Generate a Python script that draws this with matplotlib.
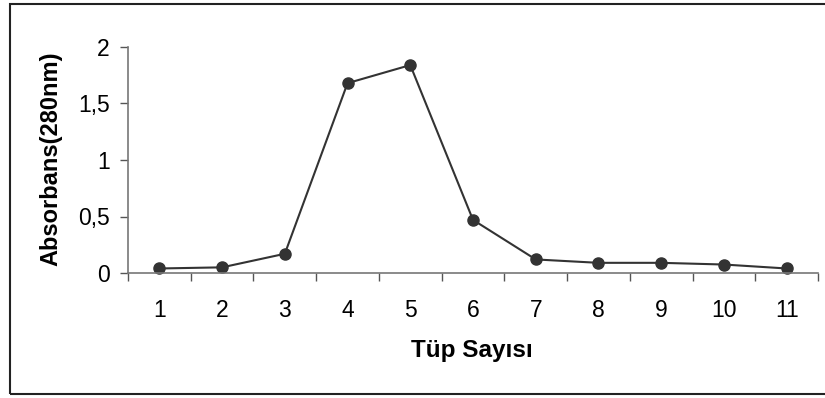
import matplotlib
matplotlib.use("Agg")
import matplotlib.pyplot as plt
from matplotlib.patches import Rectangle

tubes = [1, 2, 3, 4, 5, 6, 7, 8, 9, 10, 11]
absorbance = [0.04, 0.05, 0.17, 1.68, 1.84, 0.47, 0.12, 0.09, 0.09, 0.075, 0.04]
ytick_vals = [0, 0.5, 1, 1.5, 2]
ytick_labels = ["0", "0,5", "1", "1,5", "2"]
xlabel = "Tüp Sayısı"
ylabel = "Absorbans(280nm)"

plt.rcParams['font.family'] = ['Liberation Sans', 'DejaVu Sans']

W, H = 825, 398
fig = plt.figure(figsize=(W / 100, H / 100), dpi=100)
ax = fig.add_axes([128 / W, (H - 273) / H, (818 - 128) / W, (273 - 47) / H])

ax.plot(tubes, absorbance, color="#333333", lw=1.5, marker="o",
        markersize=8, markerfacecolor="#333333", markeredgecolor="#333333",
        clip_on=False)

ax.set_xlim(0.5, len(tubes) + 0.5)
ax.set_ylim(0, 2)
ax.set_yticks(ytick_vals)
ax.set_yticklabels(ytick_labels, fontsize=16.5)

# category boundaries as major ticks, labels at centres via minor ticks
ax.set_xticks([t - 0.5 for t in tubes] + [tubes[-1] + 0.5])
ax.set_xticklabels([])
ax.set_xticks(tubes, minor=True)
ax.set_xticklabels([str(t) for t in tubes], minor=True, fontsize=16.5)
ax.tick_params(axis="x", which="minor", length=0, pad=19)
ax.tick_params(axis="x", which="major", length=6, width=1, color="#555555", direction="out")
ax.tick_params(axis="y", length=6, width=1, color="#555555", direction="out", pad=7)

for s in ["top", "right"]:
    ax.spines[s].set_visible(False)
for s in ["left", "bottom"]:
    ax.spines[s].set_color("#777777")
    ax.spines[s].set_linewidth(1.2)

fig.text(472 / W, 1 - 351 / H, xlabel, fontsize=17.5, fontweight="bold",
         ha="center", va="center")
fig.text(51 / W, 1 - 159 / H, ylabel, fontsize=17, fontweight="bold",
         ha="center", va="center", rotation=90)

fig.patches.append(Rectangle((10 / W, 1 - 394 / H), (840 - 10) / W, (394 - 4) / H,
                             transform=fig.transFigure, fill=False,
                             edgecolor="#222222", linewidth=1.5))

fig.savefig("out.png", dpi=100, facecolor="white")
